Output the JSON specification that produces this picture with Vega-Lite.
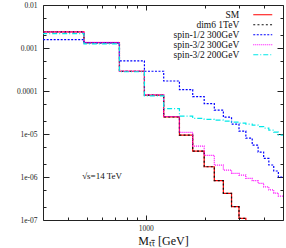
{
  "$schema": "https://vega.github.io/schema/vega-lite/v6.json",
  "width": 240,
  "height": 215,
  "autosize": {"type": "none"},
  "padding": {"left": 43, "top": 5, "right": 3, "bottom": 28},
  "config": {
    "view": {"stroke": "#222", "strokeWidth": 1},
    "font": "Liberation Serif",
    "axis": {"grid": false, "domain": false, "tickColor": "#222", "labelColor": "#222", "labelFont": "Liberation Serif", "titleFont": "Liberation Serif", "titleFontWeight": "normal", "titleColor": "#111"}
  },
  "datasets": {
    "hist": [
      {"series": "SM", "m": 235, "v": 2.36e-3},
      {"series": "SM", "m": 485, "v": 1.34e-3},
      {"series": "SM", "m": 735, "v": 2.88e-4},
      {"series": "SM", "m": 985, "v": 8.0e-5},
      {"series": "SM", "m": 1235, "v": 2.5e-5},
      {"series": "SM", "m": 1485, "v": 9.4e-6},
      {"series": "SM", "m": 1735, "v": 4.0e-6},
      {"series": "SM", "m": 1985, "v": 1.73e-6},
      {"series": "SM", "m": 2235, "v": 8.2e-7},
      {"series": "SM", "m": 2485, "v": 4.17e-7},
      {"series": "SM", "m": 2735, "v": 2.04e-7},
      {"series": "SM", "m": 2985, "v": 1.09e-7},
      {"series": "SM", "m": 3235, "v": 4e-8},
      {"series": "SM", "m": 3485, "v": 4e-8},
      {"series": "dim6 1TeV", "m": 235, "v": 2.36e-3},
      {"series": "dim6 1TeV", "m": 485, "v": 1.34e-3},
      {"series": "dim6 1TeV", "m": 735, "v": 2.88e-4},
      {"series": "dim6 1TeV", "m": 985, "v": 8.0e-5},
      {"series": "dim6 1TeV", "m": 1235, "v": 2.5e-5},
      {"series": "dim6 1TeV", "m": 1485, "v": 9.4e-6},
      {"series": "dim6 1TeV", "m": 1735, "v": 4.0e-6},
      {"series": "dim6 1TeV", "m": 1985, "v": 1.73e-6},
      {"series": "dim6 1TeV", "m": 2235, "v": 8.2e-7},
      {"series": "dim6 1TeV", "m": 2485, "v": 4.17e-7},
      {"series": "dim6 1TeV", "m": 2735, "v": 2.04e-7},
      {"series": "dim6 1TeV", "m": 2985, "v": 1.09e-7},
      {"series": "dim6 1TeV", "m": 3235, "v": 4e-8},
      {"series": "dim6 1TeV", "m": 3485, "v": 4e-8},
      {"series": "spin-1/2 300GeV", "m": 235, "v": 1.57e-3},
      {"series": "spin-1/2 300GeV", "m": 485, "v": 1.32e-3},
      {"series": "spin-1/2 300GeV", "m": 735, "v": 5.0e-4},
      {"series": "spin-1/2 300GeV", "m": 985, "v": 2.88e-4},
      {"series": "spin-1/2 300GeV", "m": 1235, "v": 1.71e-4},
      {"series": "spin-1/2 300GeV", "m": 1485, "v": 1.08e-4},
      {"series": "spin-1/2 300GeV", "m": 1735, "v": 7.4e-5},
      {"series": "spin-1/2 300GeV", "m": 1985, "v": 5.1e-5},
      {"series": "spin-1/2 300GeV", "m": 2235, "v": 3.6e-5},
      {"series": "spin-1/2 300GeV", "m": 2485, "v": 2.46e-5},
      {"series": "spin-1/2 300GeV", "m": 2735, "v": 1.7e-5},
      {"series": "spin-1/2 300GeV", "m": 2985, "v": 1.17e-5},
      {"series": "spin-1/2 300GeV", "m": 3235, "v": 8.0e-6},
      {"series": "spin-1/2 300GeV", "m": 3485, "v": 5.5e-6},
      {"series": "spin-1/2 300GeV", "m": 3735, "v": 3.8e-6},
      {"series": "spin-1/2 300GeV", "m": 3985, "v": 2.7e-6},
      {"series": "spin-1/2 300GeV", "m": 4235, "v": 1.9e-6},
      {"series": "spin-1/2 300GeV", "m": 4485, "v": 1.38e-6},
      {"series": "spin-1/2 300GeV", "m": 4735, "v": 1.0e-6},
      {"series": "spin-1/2 300GeV", "m": 5000, "v": 1.0e-6},
      {"series": "spin-3/2 300GeV", "m": 235, "v": 2.38e-3},
      {"series": "spin-3/2 300GeV", "m": 485, "v": 1.35e-3},
      {"series": "spin-3/2 300GeV", "m": 735, "v": 2.9e-4},
      {"series": "spin-3/2 300GeV", "m": 985, "v": 8.1e-5},
      {"series": "spin-3/2 300GeV", "m": 1235, "v": 2.55e-5},
      {"series": "spin-3/2 300GeV", "m": 1485, "v": 1.09e-5},
      {"series": "spin-3/2 300GeV", "m": 1735, "v": 5.24e-6},
      {"series": "spin-3/2 300GeV", "m": 1985, "v": 3.2e-6},
      {"series": "spin-3/2 300GeV", "m": 2235, "v": 1.89e-6},
      {"series": "spin-3/2 300GeV", "m": 2485, "v": 1.45e-6},
      {"series": "spin-3/2 300GeV", "m": 2735, "v": 1.21e-6},
      {"series": "spin-3/2 300GeV", "m": 2985, "v": 1.11e-6},
      {"series": "spin-3/2 300GeV", "m": 3235, "v": 9.3e-7},
      {"series": "spin-3/2 300GeV", "m": 3485, "v": 8.2e-7},
      {"series": "spin-3/2 300GeV", "m": 3735, "v": 7.1e-7},
      {"series": "spin-3/2 300GeV", "m": 3985, "v": 5.9e-7},
      {"series": "spin-3/2 300GeV", "m": 4235, "v": 5.0e-7},
      {"series": "spin-3/2 300GeV", "m": 4485, "v": 4.2e-7},
      {"series": "spin-3/2 300GeV", "m": 4735, "v": 3.6e-7},
      {"series": "spin-3/2 300GeV", "m": 5000, "v": 3.6e-7},
      {"series": "spin-3/2 200GeV", "m": 235, "v": 2.17e-3},
      {"series": "spin-3/2 200GeV", "m": 485, "v": 1.25e-3},
      {"series": "spin-3/2 200GeV", "m": 735, "v": 2.8e-4},
      {"series": "spin-3/2 200GeV", "m": 985, "v": 7.7e-5},
      {"series": "spin-3/2 200GeV", "m": 1235, "v": 3.9e-5},
      {"series": "spin-3/2 200GeV", "m": 1485, "v": 2.6e-5},
      {"series": "spin-3/2 200GeV", "m": 1735, "v": 2.3e-5},
      {"series": "spin-3/2 200GeV", "m": 1985, "v": 2.2e-5},
      {"series": "spin-3/2 200GeV", "m": 2235, "v": 2.1e-5},
      {"series": "spin-3/2 200GeV", "m": 2485, "v": 2.0e-5},
      {"series": "spin-3/2 200GeV", "m": 2735, "v": 1.89e-5},
      {"series": "spin-3/2 200GeV", "m": 2985, "v": 1.79e-5},
      {"series": "spin-3/2 200GeV", "m": 3235, "v": 1.7e-5},
      {"series": "spin-3/2 200GeV", "m": 3485, "v": 1.6e-5},
      {"series": "spin-3/2 200GeV", "m": 3735, "v": 1.48e-5},
      {"series": "spin-3/2 200GeV", "m": 3985, "v": 1.37e-5},
      {"series": "spin-3/2 200GeV", "m": 4235, "v": 1.23e-5},
      {"series": "spin-3/2 200GeV", "m": 4485, "v": 1.1e-5},
      {"series": "spin-3/2 200GeV", "m": 4735, "v": 9.4e-6},
      {"series": "spin-3/2 200GeV", "m": 5000, "v": 9.4e-6}
    ],
    "note": [{"label": "√s=14 TeV", "m": 600, "v": 1.05e-6}]
  },
  "layer": [
    {
      "data": {"name": "hist"},
      "mark": {"type": "line", "interpolate": "step-after", "clip": true, "strokeWidth": 1.2},
      "encoding": {
        "x": {
          "field": "m", "type": "quantitative",
          "scale": {"type": "log", "domain": [300, 5000], "nice": false},
          "axis": {
            "orient": "bottom",
            "values": [400, 500, 600, 700, 800, 900, 1000, 2000, 3000, 4000],
            "labelExpr": "datum.value == 1000 ? '1000' : ''",
            "tickSize": {"condition": {"test": "datum.value == 1000", "value": -5}, "value": -3},
            "labelPadding": 9,
            "labelFontSize": 7.5,
            "title": "Mₜₜ̄ [GeV]",
            "titleFontSize": 12,
            "titlePadding": 4
          }
        },
        "y": {
          "field": "v", "type": "quantitative",
          "scale": {"type": "log", "domain": [1e-7, 0.01], "nice": false},
          "axis": {
            "orient": "left",
            "values": [1e-7, 2e-7, 5e-7, 1e-6, 2e-6, 5e-6, 1e-5, 2e-5, 5e-5, 1e-4, 2e-4, 5e-4, 1e-3, 2e-3, 5e-3, 1e-2],
            "labelExpr": "abs(log(datum.value)/LN10 - round(log(datum.value)/LN10)) > 0.01 ? '' : round(log(datum.value)/LN10) == -2 ? '0.01' : round(log(datum.value)/LN10) == -3 ? '0.001' : round(log(datum.value)/LN10) == -4 ? '0.0001' : '1e-0' + (-round(log(datum.value)/LN10))",
            "tickSize": {"condition": {"test": "abs(log(datum.value)/LN10 - round(log(datum.value)/LN10)) < 0.01", "value": -6}, "value": -3},
            "labelPadding": 12,
            "labelFontSize": 7.5,
            "title": null
          }
        },
        "color": {
          "field": "series", "type": "nominal",
          "scale": {
            "domain": ["SM", "dim6 1TeV", "spin-1/2 300GeV", "spin-3/2 300GeV", "spin-3/2 200GeV"],
            "range": ["#ff0000", "#111111", "#0000ff", "#ff00ff", "#00e8e8"]
          },
          "legend": {"title": null, "orient": "none", "legendX": 215, "legendY": 5, "padding": 0, "labelFont": "Liberation Serif", "labelFontSize": 9.5, "labelColor": "#111", "labelAlign": "right", "labelOffset": -28.25, "symbolType": "M-4.75,0H4.75", "symbolSize": 16, "symbolStrokeWidth": 1.2, "rowPadding": -2.1, "labelLimit": 200}
        },
        "strokeDash": {
          "field": "series", "type": "nominal",
          "scale": {
            "domain": ["SM", "dim6 1TeV", "spin-1/2 300GeV", "spin-3/2 300GeV", "spin-3/2 200GeV"],
            "range": [[1, 0], [2, 2.2], [2, 1.5], [1, 1], [5, 2, 1, 2]]
          },
          "legend": {"title": null, "orient": "none", "legendX": 215, "legendY": 5, "padding": 0, "labelFont": "Liberation Serif", "labelFontSize": 9.5, "labelColor": "#111", "labelAlign": "right", "labelOffset": -28.25, "symbolType": "M-4.75,0H4.75", "symbolSize": 16, "symbolStrokeWidth": 1.2, "rowPadding": -2.1, "labelLimit": 200}
        }
      }
    },
    {
      "data": {"name": "note"},
      "mark": {"type": "text", "font": "Liberation Serif", "fontSize": 9, "color": "#111"},
      "encoding": {
        "x": {
          "field": "m", "type": "quantitative",
          "scale": {"type": "log", "domain": [300, 5000], "nice": false},
          "axis": {
            "orient": "top",
            "values": [400, 500, 600, 700, 800, 900, 1000, 2000, 3000, 4000],
            "labels": false,
            "tickSize": {"condition": {"test": "datum.value == 1000", "value": -5}, "value": -3},
            "title": null
          }
        },
        "y": {
          "field": "v", "type": "quantitative",
          "scale": {"type": "log", "domain": [1e-7, 0.01], "nice": false},
          "axis": {
            "orient": "right",
            "values": [1e-7, 2e-7, 5e-7, 1e-6, 2e-6, 5e-6, 1e-5, 2e-5, 5e-5, 1e-4, 2e-4, 5e-4, 1e-3, 2e-3, 5e-3, 1e-2],
            "labels": false,
            "tickSize": {"condition": {"test": "abs(log(datum.value)/LN10 - round(log(datum.value)/LN10)) < 0.01", "value": -6}, "value": -3},
            "title": null
          }
        },
        "text": {"field": "label"}
      }
    }
  ],
  "resolve": {"axis": {"x": "independent", "y": "independent"}}
}
